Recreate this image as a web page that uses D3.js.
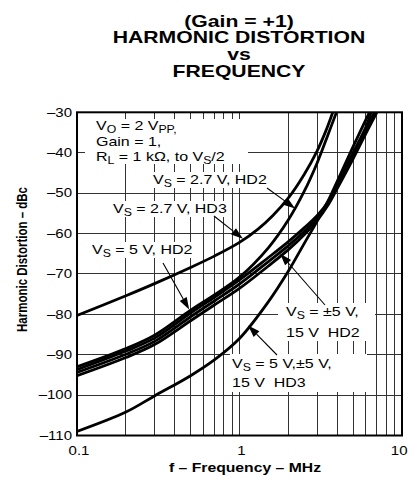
<!DOCTYPE html>
<html><head><meta charset="utf-8">
<script src="https://cdn.jsdelivr.net/npm/d3@7"></script>
<style>
html,body{margin:0;padding:0;background:#fff;}
svg{display:block;}
text{font-family:"Liberation Sans",Arial,Helvetica,sans-serif;fill:#000;}
</style></head><body>
<svg id="chart" width="408" height="485"></svg>
<script>
// ---------- data ----------
const titleLines = ["(Gain = +1)", "HARMONIC DISTORTION", "vs", "FREQUENCY"];
const xTickValues = [0.1, 1, 10];
const xTickLabels = ["0.1", "1", "10"];
const yTickValues = [-30, -40, -50, -60, -70, -80, -90, -100, -110];
const yTickLabels = ["–30", "–40", "–50", "–60", "–70", "–80", "–90", "–100", "–110"];
const xAxisTitle = "f – Frequency – MHz";
const yAxisTitle = "Harmonic Distortion – dBc";

// Vs = 2.7 V, HD3
const freqHD3_27 = [0.1, 0.2, 0.3, 0.5, 0.7, 1, 1.3, 1.6, 2, 2.5, 3, 3.4, 3.75];
const valHD3_27  = [-80.3, -75.4, -72.4, -68.4, -65.6, -62.2, -58.9, -55.6, -51.2, -45.4, -39.6, -34.6, -30];
// Vs = 2.7 V, HD2
const freqHD2_27 = [0.1, 0.2, 0.3, 0.5, 0.7, 1, 1.5, 2, 2.5, 3, 3.5, 3.95];
const valHD2_27  = [-93.0, -88.5, -85.2, -79.0, -75.2, -70.8, -63.6, -56.6, -49.6, -42.6, -35.6, -30];
// Vs = 5 V, HD2
const freqHD2_5 = [0.1, 0.2, 0.3, 0.5, 0.7, 1, 1.5, 2, 2.5, 3, 3.5, 4, 5, 6, 6.45];
const valHD2_5  = [-93.7, -89.1, -85.9, -79.7, -75.8, -71.5, -66.0, -62.0, -58.6, -55.6, -52.2, -47.8, -40.0, -33.6, -30];
// Vs = ±5 V, HD2
const freqHD2_pm5 = [0.1, 0.2, 0.3, 0.5, 0.7, 1, 1.5, 2, 2.5, 3, 3.5, 4, 5, 6, 6.75];
const valHD2_pm5  = [-94.4, -89.9, -86.7, -80.6, -76.7, -72.5, -67.0, -63.0, -59.5, -56.2, -52.6, -48.3, -40.8, -34.4, -30];
// Vs = 15 V, HD2
const freqHD2_15 = [0.1, 0.2, 0.3, 0.5, 0.7, 1, 1.5, 2, 2.5, 3, 3.5, 4, 5, 6, 7.0];
const valHD2_15  = [-95.2, -90.7, -87.5, -81.6, -77.7, -73.6, -68.1, -64.0, -60.3, -56.8, -53.0, -48.8, -41.5, -35.2, -30];
// Vs = 5 V, ±5 V, 15 V, HD3
const freqHD3_all = [0.1, 0.2, 0.3, 0.5, 0.7, 1, 1.5, 2, 2.5, 3, 3.5, 4, 5, 6.3];
const valHD3_all  = [-109, -104.2, -100.2, -95.2, -91.3, -86.0, -77.0, -69.3, -62.5, -57.0, -52.0, -47.0, -38.5, -30];

const series = [
  {f: freqHD3_27, v: valHD3_27},
  {f: freqHD2_27, v: valHD2_27},
  {f: freqHD2_5, v: valHD2_5},
  {f: freqHD2_pm5, v: valHD2_pm5},
  {f: freqHD2_15, v: valHD2_15},
  {f: freqHD3_all, v: valHD3_all}
];

// ---------- layout ----------
const svg = d3.select("#chart");
const L = 77, R = 402, T = 112.3, B = 435.5;
const x = d3.scaleLog().domain([0.1, 10]).range([L, R]);
const y = d3.scaleLinear().domain([-110, -30]).range([B, T]);

// title
const titleY = [26.5, 43, 59.5, 76.5];
titleLines.forEach((s, i) => {
  svg.append("text").attr("transform", `translate(239,${titleY[i]}) scale(1.3,1)`)
    .attr("text-anchor", "middle").attr("font-size", 16.3).attr("font-weight", "bold").text(s);
});

// grid
const minor = [];
[0.1, 1].forEach(d => { for (let k = 1; k <= 9; k++) minor.push(d * k); });
minor.push(10);
const grid = svg.append("g").attr("stroke", "#333").attr("stroke-width", 1).attr("shape-rendering", "crispEdges");
grid.selectAll("line.v").data(minor).join("line").attr("class", "v")
  .attr("x1", d => x(d)).attr("x2", d => x(d)).attr("y1", T).attr("y2", B);
grid.selectAll("line.h").data(yTickValues).join("line").attr("class", "h")
  .attr("x1", L).attr("x2", R).attr("y1", d => y(d)).attr("y2", d => y(d));

// white label boxes (hide grid behind text)
const boxes = [
  [85, 119, 248, 164],
  [150, 172, 272, 188],
  [110, 201, 232, 217],
  [88, 242, 196, 258],
  [278, 303, 375, 341],
  [230, 354, 367, 392]
];
svg.append("g").selectAll("rect").data(boxes).join("rect")
  .attr("x", d => d[0]).attr("y", d => d[1]).attr("width", d => d[2] - d[0]).attr("height", d => d[3] - d[1])
  .attr("fill", "#fff");

// curves
svg.append("clipPath").attr("id", "clip").append("rect").attr("x", L).attr("y", T).attr("width", R - L).attr("height", B - T);
const line = d3.line().x(d => x(d[0])).y(d => y(d[1])).curve(d3.curveCatmullRom.alpha(0.5));
svg.append("g").attr("clip-path", "url(#clip)").selectAll("path").data(series).join("path")
  .attr("d", s => line(s.f.map((f, i) => [f, s.v[i]])))
  .attr("fill", "none").attr("stroke", "#000").attr("stroke-width", 2.8).attr("stroke-linejoin", "round");

// frame
svg.append("rect").attr("x", L).attr("y", T).attr("width", R - L).attr("height", B - T)
  .attr("fill", "none").attr("stroke", "#000").attr("stroke-width", 2);

// axes tick labels
svg.append("g").selectAll("text").data(yTickValues).join("text")
  .attr("transform", d => `translate(72,${y(d) + 4.3}) scale(1.25,1)`)
  .attr("text-anchor", "end").attr("font-size", 12).text((d, i) => yTickLabels[i]);
svg.append("g").selectAll("text").data(xTickValues).join("text")
  .attr("transform", (d, i) => i === xTickValues.length - 1 ? `translate(407.5,455) scale(1.25,1)` : `translate(${x(d) + 2},455) scale(1.25,1)`)
  .attr("text-anchor", (d, i) => i === xTickValues.length - 1 ? "end" : "middle")
  .attr("font-size", 12).text((d, i) => xTickLabels[i]);

// axis titles
svg.append("text").attr("transform", "translate(245,471.5) scale(1.26,1)").attr("text-anchor", "middle")
  .attr("font-size", 12.5).attr("font-weight", "bold").text(xAxisTitle);
svg.append("text").attr("transform", "translate(27,259.5) scale(1.26,1) rotate(-90)").attr("text-anchor", "middle")
  .attr("font-size", 11.5).attr("font-weight", "bold").text(yAxisTitle);

// annotation text
function stretched(xp, yp, parts) {
  const t = svg.append("text").attr("transform", `translate(${xp},${yp}) scale(1.23,1)`)
    .attr("font-size", 13).style("white-space", "pre");
  let sub = false;
  parts.forEach(p => {
    const isSub = Array.isArray(p);
    const ts = t.append("tspan").text(isSub ? p[0] : p);
    if (isSub) { ts.attr("font-size", 10); if (!sub) { ts.attr("dy", 3); sub = true; } }
    else if (sub) { ts.attr("dy", -3); sub = false; }
  });
}
stretched(96, 130, ["V", ["O"], " = 2 V", ["PP,"]]);
stretched(96, 145.5, ["Gain = 1,"]);
stretched(96, 160.5, ["R", ["L"], " = 1 kΩ, to V", ["S"], "/2"]);
stretched(153, 184, ["V", ["S"], " = 2.7 V, HD2"]);
stretched(113, 213.3, ["V", ["S"], " = 2.7 V, HD3"]);
stretched(92, 254, ["V", ["S"], " = 5 V, HD2"]);
stretched(286, 316, ["V", ["S"], " = ±5 V,"]);
stretched(286, 336.7, ["15 V  HD2"]);
stretched(232, 368.3, ["V", ["S"], " = 5 V,±5 V,"]);
stretched(232, 387.3, ["15 V  HD3"]);

// arrows: tail in px, tip in data coords
const arrows = [
  {tail: [267, 188], tip: [2.2, -53.8]},
  {tail: [214, 216], tip: [1.05, -61.3]},
  {tail: [163, 263], tip: [0.49, -78.8]},
  {tail: [325, 305], tip: [1.78, -65.0]},
  {tail: [277, 355], tip: [1.13, -82.8]}
];
const ag = svg.append("g");
arrows.forEach(a => {
  const tx = x(a.tip[0]), ty = y(a.tip[1]);
  const dx = tx - a.tail[0], dy = ty - a.tail[1];
  const len = Math.hypot(dx, dy), ux = dx / len, uy = dy / len;
  const hl = 12, hw = 4;
  const bx = tx - ux * hl, by = ty - uy * hl;
  ag.append("line").attr("x1", a.tail[0]).attr("y1", a.tail[1]).attr("x2", bx).attr("y2", by)
    .attr("stroke", "#000").attr("stroke-width", 1.1);
  ag.append("path").attr("d", `M${tx},${ty}L${bx - uy * hw},${by + ux * hw}L${bx + uy * hw},${by - ux * hw}Z`)
    .attr("fill", "#000");
});
</script>
</body></html>
